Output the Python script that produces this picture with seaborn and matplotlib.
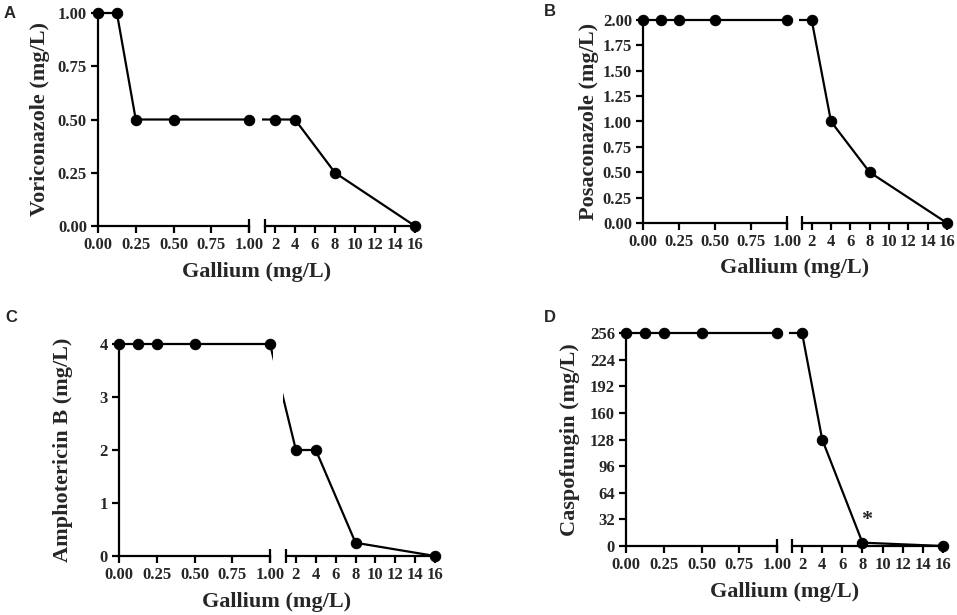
import numpy as np
import matplotlib
matplotlib.use("Agg")
import matplotlib.pyplot as plt
from matplotlib.patches import ConnectionPatch, Rectangle
import seaborn as sns

# ─── Data ────────────────────────────────────────────────────────────────────────
gallium = [0, 0.125, 0.25, 0.5, 1, 2, 4, 8, 16]

voriconazole = [1.0, 1.0, 0.5, 0.5, 0.5, 0.5, 0.5, 0.25, 0.0]
posaconazole = [2.0, 2.0, 2.0, 2.0, 2.0, 2.0, 1.0, 0.5, 0.0]
amphotericin = [4, 4, 4, 4, 4, 2, 2, 0.25, 0]
caspofungin = [256, 256, 256, 256, 256, 256, 128, 4, 0]

left_ticks = [0, 0.25, 0.5, 0.75, 1.0]
right_ticks = [2, 4, 6, 8, 10, 12, 14, 16]

panels = [
    # letter, values, ylabel, yticks, yfmt
    ("A", voriconazole, "Voriconazole (mg/L)", [0, 0.25, 0.5, 0.75, 1.0], "{:.2f}"),
    ("B", posaconazole, "Posaconazole (mg/L)",
     [0, 0.25, 0.5, 0.75, 1.0, 1.25, 1.5, 1.75, 2.0], "{:.2f}"),
    ("C", amphotericin, "Amphotericin B (mg/L)", [0, 1, 2, 3, 4], "{:d}"),
    ("D", caspofungin, "Caspofungin (mg/L)", [0, 32, 64, 96, 128, 160, 192, 224, 256], "{:d}"),
]

# ─── Layout (pixels, top-left origin) ─────────────────────────────────────────────
W, H = 957, 615
# left_x0, left_x1, right_x0, right_x1, y_top, y_bottom, letter_xy, xlabel_y, ylabel_x
LAYOUT = {
    "A": (98, 249, 265, 415, 13, 226, (10, 13), 272, 40),
    "B": (643, 787, 802, 947, 20, 223, (550, 12), 268, 589),
    "C": (119, 270, 286, 435, 344, 556, (11, 318), 602, 63),
    "D": (626, 777, 792, 943, 333, 546, (550, 318), 592, 570),
}

sns.set_style("ticks")
plt.rcParams["font.family"] = ["Liberation Serif", "DejaVu Serif"]
plt.rcParams["font.weight"] = "bold"

LW = 1.6
fig = plt.figure(figsize=(W / 100, H / 100), dpi=100, facecolor="white")


def px_rect(x0, x1, yt, yb):
    return [x0 / W, 1 - yb / H, (x1 - x0) / W, (yb - yt) / H]


def style_axis(ax):
    ax.set_facecolor("none")
    for side in ["top", "right"]:
        ax.spines[side].set_visible(False)
    for side in ["left", "bottom"]:
        ax.spines[side].set_linewidth(LW)
        ax.spines[side].set_color("black")
    ax.tick_params(axis="both", direction="out", length=5, width=LW,
                   color="black", labelsize=12, pad=3)


for letter, values, ylabel, yticks, yfmt in panels:
    lx0, lx1, rx0, rx1, yt, yb, lxy, xly, ylx = LAYOUT[letter]
    ax_l = fig.add_axes(px_rect(lx0, lx1, yt, yb))
    ax_r = fig.add_axes(px_rect(rx0, rx1, yt, yb))

    x = np.array(gallium, dtype=float)
    y = np.array(values, dtype=float)
    left_mask = x <= 1
    right_mask = x >= 2

    sns.lineplot(x=x[left_mask], y=y[left_mask], ax=ax_l, color="black",
                 marker="o", markersize=7.5, markeredgecolor="black",
                 linewidth=LW, clip_on=False, zorder=5)
    sns.lineplot(x=x[right_mask], y=y[right_mask], ax=ax_r, color="black",
                 marker="o", markersize=7.5, markeredgecolor="black",
                 linewidth=LW, clip_on=False, zorder=5)

    ymax = yticks[-1]
    for ax in (ax_l, ax_r):
        ax.set_ylim(0, ymax)
        ax.set_xlabel("")
        ax.set_ylabel("")
        style_axis(ax)

    ax_l.set_xlim(0, 1)
    ax_l.set_xticks(left_ticks)
    ax_l.set_xticklabels(["{:.2f}".format(t) for t in left_ticks], fontweight="bold")
    ax_l.set_yticks(yticks)
    ax_l.set_yticklabels([yfmt.format(t) if yfmt == "{:.2f}" else yfmt.format(int(t))
                          for t in yticks], fontweight="bold")

    ax_r.set_xlim(1, 16)
    ax_r.set_xticks(right_ticks)
    ax_r.set_xticklabels([str(t) for t in right_ticks], fontweight="bold")
    ax_r.spines["left"].set_visible(False)
    ax_r.tick_params(axis="y", left=False, labelleft=False)

    # break marks on the x axis
    ax_l.plot([1], [0], marker="|", markersize=10, markeredgewidth=LW, color="black",
              transform=ax_l.get_xaxis_transform(), clip_on=False)
    ax_r.plot([1], [0], marker="|", markersize=10, markeredgewidth=LW, color="black",
              transform=ax_r.get_xaxis_transform(), clip_on=False)

    # connecting segment across the break, with a gap cut out
    i1 = gallium.index(1)
    i2 = gallium.index(2)
    con = ConnectionPatch(xyA=(gallium[i1], values[i1]), coordsA=ax_l.transData,
                          xyB=(gallium[i2], values[i2]), coordsB=ax_r.transData,
                          color="black", linewidth=LW, zorder=-2)
    fig.add_artist(con)
    gap = Rectangle(((lx1 + 3) / W, 1 - (yb + 2) / H), (rx0 - lx1 - 6) / W,
                    (yb - yt + 10) / H, transform=fig.transFigure,
                    facecolor="white", edgecolor="none", zorder=-1)
    fig.add_artist(gap)

    # labels
    fig.text(lxy[0] / W, 1 - lxy[1] / H, letter, family=["Liberation Sans", "DejaVu Sans"],
             fontweight="bold", fontsize=12, ha="center", va="center")
    fig.text(((lx0 + rx1) / 2) / W, 1 - xly / H, "Gallium (mg/L)", fontsize=16,
             fontweight="bold", ha="center", va="center")
    fig.text(ylx / W, 1 - ((yt + yb) / 2) / H, ylabel, fontsize=16, fontweight="bold",
             rotation=90, ha="center", va="center")

    if letter == "D":
        ax_r.text(8.4, 31, "*", fontsize=16, fontweight="bold", ha="center", va="center")

fig.savefig("out.png", dpi=100, facecolor="white")
